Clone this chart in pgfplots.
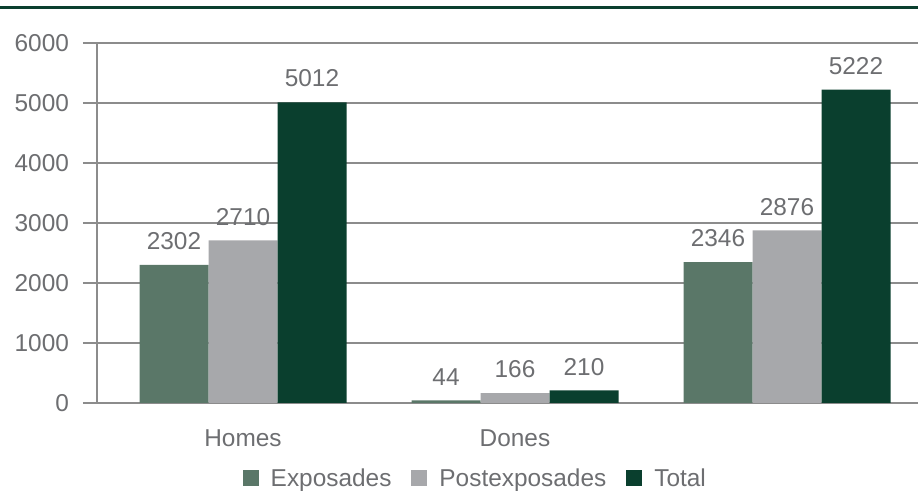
\documentclass[border=0pt]{standalone}
\usepackage{fontspec}
\setmainfont{Liberation Sans}
\usepackage{pgfplots}
\pgfplotsset{compat=1.18}
\definecolor{cExp}{HTML}{5A7768}
\definecolor{cPost}{HTML}{A7A8AB}
\definecolor{cTot}{HTML}{0A3F2E}
\definecolor{txt}{HTML}{6D6E71}
\definecolor{gridc}{HTML}{8C8C8C}
\newcommand\chartfont{\fontsize{12.2}{14.4}\selectfont}
\pgfplotsset{sqleg/.style={legend image code/.code={\fill[#1] (0pt,-3.4pt) rectangle (8pt,4.6pt);}}}
\begin{document}
\begin{tikzpicture}
\useasboundingbox (0,0) rectangle (459pt,245.5pt);
\draw[cTot, line width=1.5pt] (0,241.75pt) -- (459pt,241.75pt);
\begin{axis}[
 at={(48.5pt,44pt)}, anchor=south west,
 scale only axis, width=410.5pt, height=180pt,
 ybar, bar width=34.5pt,
 xmin=-0.5368, xmax=2.4816, ymin=0, ymax=6000,
 ytick={0,1000,...,6000},
 xtick={0,1,2}, xticklabels={Homes,Dones,{}},
 axis x line*=bottom, axis y line*=left,
 axis line style={-, draw=gridc, line width=0.7pt},
 ymajorgrids, grid style={draw=gridc, line width=0.65pt},
 tick align=outside, major tick length=7pt,
 ytick style={draw=gridc, line width=0.7pt},
 xtick style={draw=none},
 tick label style={font=\chartfont, text=txt},
 /pgf/number format/assume math mode=true,
 /pgf/number format/1000 sep={},
 xticklabel style={yshift=-3pt},
 yticklabel style={xshift=-3.5pt},
 nodes near coords,
 nodes near coords style={font=\chartfont, text=txt, yshift=4pt},
 legend columns=3,
 legend style={draw=none, fill=none, font=\chartfont, text=txt, at={(0.462,-0.2125)}, anchor=center,
   /tikz/every even column/.append style={column sep=8pt},
   /tikz/every odd column/.append style={column sep=4pt}},
 legend cell align=left,
]
\addplot[fill=cExp, draw=none, bar shift=-34.5pt, sqleg] coordinates {(0,2302) (1,44) (2,2346)};
\addplot[fill=cPost, draw=none, bar shift=0pt, sqleg] coordinates {(0,2710) (1,166) (2,2876)};
\addplot[fill=cTot, draw=none, bar shift=34.5pt, sqleg] coordinates {(0,5012) (1,210) (2,5222)};
\legend{Exposades, Postexposades, Total}
\end{axis}
\end{tikzpicture}
\end{document}
